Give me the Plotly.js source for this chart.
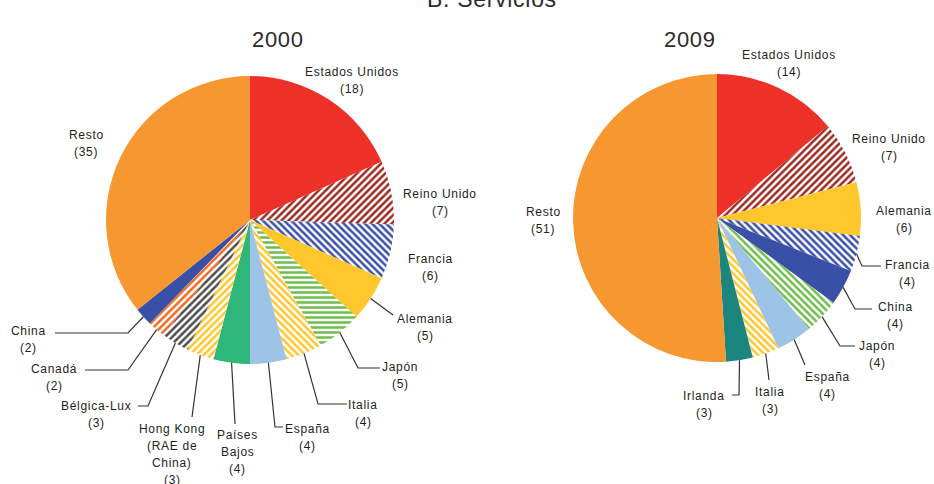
<!DOCTYPE html>
<html>
<head>
<meta charset="utf-8">
<script src="https://cdn.plot.ly/plotly-3.0.1.min.js"></script>
<style>
html,body{margin:0;padding:0;background:#fff;}
#chart{width:934px;height:484px;}
.annotation-text{letter-spacing:0.7px;}
</style>
</head>
<body>
<div id="chart"></div>
<script>
// ---- Data: 2000 ----
const labels2000 = ["Estados Unidos", "Reino Unido", "Francia", "Alemania", "Japón", "Italia", "España", "Países Bajos", "Hong Kong (RAE de China)", "Bélgica-Lux", "Canadá", "China", "Resto"];
const values2000 = [18, 7, 6, 5, 5, 4, 4, 4, 3, 3, 2, 2, 35];

// ---- Data: 2009 ----
const labels2009 = ["Estados Unidos", "Reino Unido", "Alemania", "Francia", "China", "Japón", "España", "Italia", "Irlanda", "Resto"];
const values2009 = [14, 7, 6, 4, 4, 4, 4, 3, 3, 51];

// ---- Styles ----
const colors2000 = ["#ED3129", "#9B2A22", "#3A4FA6", "#FFC72C", "#6DBE4B", "#FFC72C", "#9DC3E6", "#2FB67A", "#FFC72C", "#4D4D4D", "#F26A21", "#3A4FA6", "#F7972F"];
const patterns2000 = ["", "/", "\\", "", "-", "\\", "", "", "/", "/", "/", "", ""];
const colors2009 = ["#ED3129", "#9B2A22", "#FFC72C", "#3A4FA6", "#3A4FA6", "#6DBE4B", "#9DC3E6", "#FFC72C", "#1B8580", "#F7972F"];
const patterns2009 = ["", "/", "", "\\", "", "\\", "", "\\", "", ""];

// label text lines shown in the chart (wrapping only)
const wrap2000 = [["Estados Unidos"], ["Reino Unido"], ["Francia"], ["Alemania"], ["Japón"], ["Italia"], ["España"], ["Países", "Bajos"], ["Hong Kong", "(RAE de", "China)"], ["Bélgica-Lux"], ["Canadá"], ["China"], ["Resto"]];
const wrap2009 = [["Estados Unidos"], ["Reino Unido"], ["Alemania"], ["Francia"], ["China"], ["Japón"], ["España"], ["Italia"], ["Irlanda"], ["Resto"]];

// label placement in pixels: [text centre x, first line y, knee x, knee y, line end x]
const place2000 = [
  [352, 72], [440, 194], [430, 259],
  [425, 319, 393, 315, null],
  [400, 367, 358, 368, 380],
  [363, 405, 318, 404, 347],
  [307, 429, 275, 427, 283],
  [238, 435, 235, 424, null],
  [172, 429, 192, 417, null],
  [96, 406, 148, 406, 138],
  [54, 369, 128, 370, 85],
  [28, 331, 128, 333, 55],
  [86, 135]
];
const place2009 = [
  [789, 55], [889, 139], [904, 211],
  [907, 265, 862, 266, 881],
  [895, 307, 855, 309, 872],
  [877, 346, 840, 346, 855],
  [827, 377, 805, 365, null],
  [770, 392, 769, 380, null],
  [704, 396, 739, 395, 732],
  [543, 212]
];

const W = 934, H = 484;
const dom2000 = {x: [0.1135, 0.4218], y: [0.248, 0.843]};
const dom2009 = {x: [0.6135, 0.9218], y: [0.252, 0.847]};
const LINE_GAP = 17;
const TXT = "#231F20";
const FONT = "Liberation Sans, Arial, sans-serif";

function pieTrace(labels, values, colors, patterns, domain) {
  return {
    type: "pie",
    labels: labels,
    values: values,
    textinfo: "none",
    textposition: "none",
    sort: false,
    direction: "clockwise",
    rotation: 0,
    automargin: false,
    showlegend: false,
    hoverinfo: "label+value",
    marker: {
      colors: colors,
      line: {width: 0},
      pattern: {
        shape: patterns,
        fgcolor: colors,
        bgcolor: "white",
        fgopacity: 1,
        size: 5,
        solidity: 0.5,
        fillmode: "replace"
      }
    },
    domain: domain
  };
}

const annotations = [];
const shapes = [];
function px2paper(x, y) { return [x / W, 1 - y / H]; }

function addLabels(values, wrap, place, domain) {
  const cx = (domain.x[0] + domain.x[1]) / 2 * W;
  const cy = (1 - (domain.y[0] + domain.y[1]) / 2) * H;
  const R = Math.min((domain.x[1] - domain.x[0]) * W, (domain.y[1] - domain.y[0]) * H) / 2;
  const total = values.reduce((a, b) => a + b, 0);
  let cum = 0;
  values.forEach((v, i) => {
    const mid = (cum + v / 2) / total * 2 * Math.PI;
    cum += v;
    const p = place[i];
    const lines = wrap[i].concat(["(" + v + ")"]);
    lines.forEach((t, j) => {
      const q = px2paper(p[0], p[1] + j * LINE_GAP);
      annotations.push({
        text: t, x: q[0], y: q[1], xref: "paper", yref: "paper",
        xanchor: "center", yanchor: "middle", showarrow: false,
        font: {family: FONT, size: 12, color: TXT}
      });
    });
    if (p.length > 2) {
      const ax = cx + R * Math.sin(mid), ay = cy - R * Math.cos(mid);
      const a = px2paper(ax, ay), k = px2paper(p[2], p[3]);
      let path = "M" + a[0] + "," + a[1] + " L" + k[0] + "," + k[1];
      if (p[4] !== null && p[4] !== undefined) {
        const e = px2paper(p[4], p[3]);
        path += " L" + e[0] + "," + e[1];
      }
      shapes.push({type: "path", path: path, xref: "paper", yref: "paper",
        line: {color: "#333", width: 1.2}, fillcolor: "rgba(0,0,0,0)"});
    }
  });
}
addLabels(values2000, wrap2000, place2000, dom2000);
addLabels(values2009, wrap2009, place2009, dom2009);

annotations.push(
  {text: "2000", x: 250 / W, y: 1 - 25 / H, xref: "paper", yref: "paper", showarrow: false, font: {family: FONT, size: 22, color: "#2b2b2b"}},
  {text: "2009", x: 718 / W, y: 1 - 25 / H, xref: "paper", yref: "paper", showarrow: false, font: {family: FONT, size: 22, color: "#2b2b2b"}},
  {text: "B. Servicios", x: 492 / W, y: 1, yshift: 1, xref: "paper", yref: "paper", xanchor: "center", yanchor: "middle", showarrow: false, font: {family: FONT, size: 23, color: "#2b2b2b"}}
);

const data = [
  pieTrace(labels2000, values2000, colors2000, patterns2000, dom2000),
  pieTrace(labels2009, values2009, colors2009, patterns2009, dom2009)
];

const layout = {
  width: W,
  height: H,
  margin: {l: 0, r: 0, t: 0, b: 0},
  paper_bgcolor: "#fff",
  font: {family: FONT, color: TXT},
  annotations: annotations,
  shapes: shapes
};

Plotly.newPlot("chart", data, layout, {displayModeBar: false, staticPlot: true});
</script>
</body>
</html>
